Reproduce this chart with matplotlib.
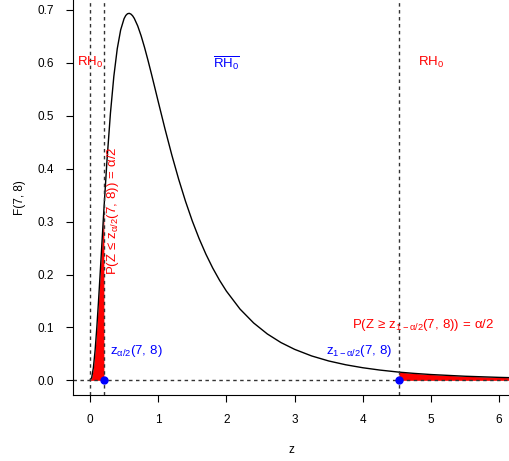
import matplotlib
matplotlib.use("Agg")
import matplotlib.pyplot as plt
import numpy as np

plt.rcParams["font.family"] = ["Liberation Sans", "DejaVu Sans"]
plt.rcParams["mathtext.fontset"] = "custom"
plt.rcParams["mathtext.rm"] = "Liberation Sans"
plt.rcParams["mathtext.it"] = "Liberation Sans:italic"
plt.rcParams["mathtext.default"] = "rm"

# F(7, 8) density
z_vals = [0.0, 0.025, 0.05, 0.075, 0.1, 0.125, 0.15, 0.175, 0.2, 0.204, 0.25, 0.3, 0.35,
          0.4, 0.45, 0.5, 0.525, 0.55, 0.575, 0.6, 0.625, 0.65, 0.7, 0.75, 0.8, 0.85,
          0.9, 0.95, 1.0, 1.1, 1.2, 1.3, 1.4, 1.5, 1.6, 1.7, 1.8, 1.9, 2.0, 2.2, 2.4,
          2.6, 2.8, 3.0, 3.25, 3.5, 3.75, 4.0, 4.25, 4.53, 4.75, 5.0, 5.5, 6.0, 6.2]
dens = [0.0, 0.00495, 0.0239, 0.0562, 0.0992, 0.1492, 0.2033, 0.2588, 0.3139, 0.3225,
        0.4168, 0.5048, 0.5747, 0.6268, 0.6624, 0.6837, 0.6897, 0.6929, 0.6937, 0.6923,
        0.6891, 0.6841, 0.6699, 0.6512, 0.6293, 0.6052, 0.5798, 0.5536, 0.5272, 0.4752,
        0.4259, 0.3803, 0.3387, 0.3013, 0.2680, 0.2384, 0.2122, 0.1891, 0.1687, 0.1347,
        0.1084, 0.0877, 0.0714, 0.0586, 0.0461, 0.0366, 0.0294, 0.0238, 0.0194, 0.0155,
        0.01314, 0.01094, 0.00772, 0.00557, 0.00492]
z_lo = 0.204
z_hi = 4.53
x_ticks = [0, 1, 2, 3, 4, 5, 6]
y_ticks = [0.0, 0.1, 0.2, 0.3, 0.4, 0.5, 0.6, 0.7]

z = np.array(z_vals)
d = np.array(dens)

fig = plt.figure(figsize=(5.09, 4.61), dpi=100)
ax = fig.add_axes([0.1434, 0.1432, 0.8566, 0.8568])

lo = z <= z_lo
hi = z >= z_hi
ax.fill_between(z[lo], 0, d[lo], color="red", lw=0)
ax.fill_between(z[hi], 0, d[hi], color="red", lw=0)
ax.plot(z, d, color="black", lw=1.0)

dash = dict(color="#333333", lw=1.0, ls=(0, (2.5, 2.5)))
ax.axhline(0, **dash)
for xv in (0, z_lo, z_hi):
    ax.axvline(xv, **dash)

ax.plot([z_lo, z_hi], [0, 0], "o", color="blue", ms=5, zorder=5, clip_on=False)

fs = 9.5
ax.text(0, 0.6, r"$\mathrm{RH}_0$", color="red", ha="center", va="center", fontsize=fs)
ax.text(2.0, 0.6, r"$\overline{\mathrm{RH}_0}$", color="blue", ha="center", va="center", fontsize=fs)
ax.text(5.0, 0.6, r"$\mathrm{RH}_0$", color="red", ha="center", va="center", fontsize=fs)

ax.text(0.3, 0.055, r"$\mathrm{z}_{α/2}(7,\,8)$", color="blue", ha="left", va="center", fontsize=fs)
ax.text(4.44, 0.055, r"$\mathrm{z}_{1-α/2}(7,\,8)$", color="blue", ha="right", va="center", fontsize=fs)
ax.text(4.88, 0.104, r"$\mathrm{P(Z}\,\geq\,\mathrm{z}_{1-α/2}(7,\,8))\,=\,α/2$", color="red",
        ha="center", va="center", fontsize=fs)
ax.text(0.335, 0.32, r"$\mathrm{P(Z}\,\leq\,\mathrm{z}_{α/2}(7,\,8))\,=\,α/2$", color="red",
        ha="center", va="center", rotation=90, fontsize=fs)

ax.set_xlim(-0.249, 6.144)
ax.set_ylim(-0.0277, 0.7189)
ax.set_xticks(x_ticks)
ax.set_yticks(y_ticks)
ax.set_yticklabels([f"{v:.1f}" for v in y_ticks])
ax.tick_params(direction="out", length=5, width=0.8, labelsize=8.5, pad=9)
for s in ("top", "right"):
    ax.spines[s].set_visible(False)
ax.set_xlabel("z", fontsize=8.5, labelpad=13)
ax.set_ylabel("F(7, 8)", fontsize=8.5, labelpad=8)

fig.savefig("out.png", dpi=100)
